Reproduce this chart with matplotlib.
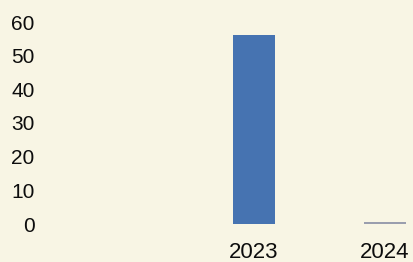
import matplotlib
matplotlib.use("Agg")
import matplotlib.pyplot as plt

years = ["2023", "2024"]
values = [56, 0.6]
y_ticks = [0, 10, 20, 30, 40, 50, 60]

bg = "#f8f5e4"
bar_colors = ["#4673b1", "#9a9eae"]

plt.rcParams["font.family"] = ["Liberation Sans", "DejaVu Sans"]

fig = plt.figure(figsize=(4.13, 2.62), dpi=100, facecolor=bg)
ax = fig.add_axes([40 / 413, 38 / 262, 373 / 413, 202 / 262])
ax.set_facecolor(bg)

x = list(range(len(years)))
ax.bar(x, values, width=0.32, color=bar_colors)

ax.set_xlim(-1.634, 1.214)
ax.set_ylim(0, 60)
ax.set_yticks(y_ticks)
ax.set_yticklabels([str(t) for t in y_ticks], fontsize=15)
ax.set_xticks(x)
ax.set_xticklabels(years, fontsize=16)
ax.tick_params(axis="both", length=0, colors="#0d0d0d")
ax.tick_params(axis="y", pad=4)
ax.tick_params(axis="x", pad=13)
for s in ax.spines.values():
    s.set_visible(False)

fig.savefig("out.png", dpi=100, facecolor=bg)
